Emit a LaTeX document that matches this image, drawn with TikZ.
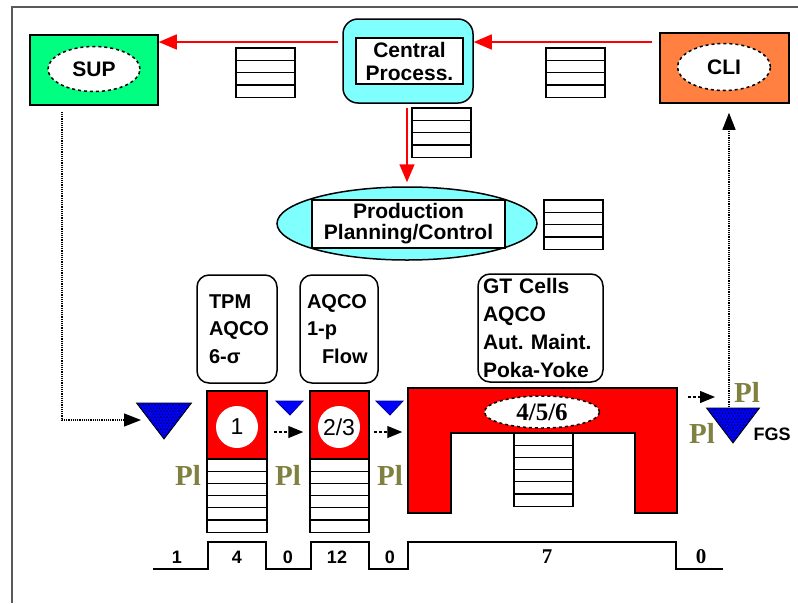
\documentclass[tikz,border=0pt]{standalone}
\usepackage{fontspec}
\setmainfont{Liberation Sans}
\newfontfamily\plfont{Liberation Serif}
\usetikzlibrary{arrows.meta,shapes.geometric}

\definecolor{supgreen}{RGB}{0,255,128}
\definecolor{cliorange}{RGB}{255,128,64}
\definecolor{cpcyan}{RGB}{128,255,255}
\definecolor{plolive}{RGB}{128,128,64}
\definecolor{framegray}{RGB}{90,90,90}

% kanban / document stack: x, y, width, rows, row height
\newcommand{\docstack}[5]{%
  \draw[fill=white, line width=1.2pt] (#1,#2) rectangle ++(#3,{#4*#5});
  \foreach \row in {1,...,#4} \draw[line width=1.2pt] (#1,{#2+\row*#5}) -- ++(#3,0);
}

% inventory triangle: apex x, top y, half width, height
\newcommand{\invtri}[4]{%
  \begin{scope}
    \clip (#1-#3,#2) -- (#1+#3,#2) -- (#1,#2+#4) -- cycle;
    \fill[blue] (#1-#3,#2) rectangle (#1+#3,#2+#4);
    \foreach \dy in {2,5,...,38}
      \foreach \dx in {-30,-27,...,30}
        \fill[black] ({#1+\dx+mod(\dy,2)*1.5},{#2+\dy}) circle (0.75);
  \end{scope}
  \draw[line width=0.8pt] (#1-#3,#2) -- (#1+#3,#2) -- (#1,#2+#4) -- cycle;
}

\begin{document}
\frenchspacing
\begin{tikzpicture}[x=1pt, y=-1pt, line width=1.5pt,
  redarrow/.style={red, line width=1.5pt, -{Triangle[length=18pt,width=15pt]}},
  flowarrow/.style={densely dashed, line width=1.2pt, -{Triangle[length=15pt,width=12pt]}},
  infoline/.style={densely dotted, line width=1.2pt, -{Triangle[length=17pt,width=13pt]}},
  partner/.style={draw, minimum width=128, minimum height=70, inner sep=0},
  tag/.style={draw, dashed, fill=white, ellipse, minimum width=92, minimum height=45, inner sep=0,
    font=\fontsize{21}{21}\selectfont\bfseries},
  cellbox/.style={draw, fill=red, minimum height=68, inner sep=0},
  cellno/.style={circle, fill=white, minimum size=42, inner sep=0, font=\fontsize{23}{23}\selectfont},
  notebox/.style={draw, rounded corners=12pt, align=left, inner sep=0, minimum height=108,
    font=\fontsize{20}{27.5}\selectfont\bfseries},
  plabel/.style={text=plolive, font=\fontsize{29}{29}\selectfont\plfont\bfseries},
  lead/.style={font=\fontsize{18}{18}\selectfont\bfseries},
]
\useasboundingbox (0,0) rectangle (798,603);

% Frame
\draw[framegray, line width=2pt] (12,603) -- (12,7) -- (798,7);

% Supplier, central process, customer
\node[partner, fill=supgreen] (sup) at (94,70) {};
\node[tag] (suptag) at (94,69) {SUP};
\node[partner, fill=cliorange, minimum width=129] (cli) at (724.5,68) {};
\node[tag, minimum width=93, minimum height=47] (clitag) at (724,67) {CLI};
\node[draw, fill=cpcyan, rounded corners=15pt, minimum width=130, minimum height=84] (cp) at (408,61) {};
\node[draw, fill=white, minimum width=107, minimum height=46, inner sep=0, align=center,
  font=\fontsize{21}{23}\selectfont\bfseries] (cptext) at (409.5,61) {Central\\Process.};

% Production planning
\node[draw, fill=cpcyan, ellipse, minimum width=260, minimum height=73, inner sep=0] (ppc) at (407,223.5) {};
\node[draw, fill=white, minimum width=193, minimum height=48, inner sep=0, align=center,
  font=\fontsize{21}{21}\selectfont\bfseries] (ppctext) at (408.5,224) {Production\\Planning/Control};

% Information flow (red)
\coordinate (toprow) at (0,42);
\draw[redarrow, shorten <=7pt] (cli.west |- toprow) -- (cp.east |- toprow);
\draw[redarrow, shorten <=4pt] (cp.west |- toprow) -- (sup.east |- toprow);
\draw[redarrow, shorten <=4pt, shorten >=4pt] (cp.south -| 407,0) -- (ppc.north -| 407,0);

% Stacks on the information flow
\docstack{236}{48}{59}{4}{12.3}
\docstack{546}{48}{59}{4}{12.3}
\docstack{412}{108}{59}{4}{12.3}
\docstack{544}{200}{59}{4}{12.3}

% Improvement notes
\node[notebox, minimum width=80, text width=56] (tpm) at (237,329) {TPM\\AQCO\\6-σ};
\node[notebox, minimum width=78, text width=64] (onep) at (339,329) {AQCO\\1-p\\\hspace*{15pt}Flow};
\node[notebox, minimum width=125, text width=115, font=\fontsize{21}{28}\selectfont\bfseries] (gt) at (540.5,328)
  {GT Cells\\AQCO\\Aut. Maint.\\Poka-Yoke};

% Process boxes
\node[cellbox, minimum width=60] (box1) at (237,425) {};
\node[cellno] (no1) at (237,427) {1};
\node[cellbox, minimum width=59] (box2) at (339.5,425) {};
\node[cellno] (no2) at (339,427) {2/3};
\node[minimum width=269, minimum height=125, inner sep=0] (cell) at (542.5,450.5) {};
\draw[fill=red] (408,388) -- (677,388) -- (677,513) -- (635,513) -- (635,433)
  -- (451,433) -- (451,513) -- (408,513) -- cycle;
\node[tag, minimum width=115, minimum height=32, font=\fontsize{25}{25}\selectfont\bfseries\plfont]
  (no3) at (542,412) {4/5/6};

% WIP stacks
\docstack{207}{459}{60}{6}{12.2}
\docstack{310}{459}{59}{6}{12.2}
\docstack{514}{433}{59}{6}{12.2}

% Inventory triangles
\coordinate (inv0) at (164,421);
\coordinate (fgs) at (729,407);
\invtri{164}{403}{27.5}{36}
\invtri{733}{408}{26.5}{35}
\foreach \x in {290,390}
  \filldraw[fill=blue, draw=blue!60!black, line width=0.8pt] (\x-14,401) -- (\x+13,401) -- (\x,415) -- cycle;
\node[lead, anchor=center] (fgslab) at (772,434) {FGS};

% Material flow
\coordinate (flowrow) at (0,432);
\draw[flowarrow, shorten <=6pt, shorten >=6pt] (box1.east |- flowrow) -- (box2.west |- flowrow);
\draw[flowarrow, shorten <=4pt, shorten >=5pt] (box2.east |- flowrow) -- (cell.west |- flowrow);
\draw[flowarrow, shorten <=10pt] (cell.east |- 0,397) -- (715,397);

% Information lines (dotted)
\coordinate (supdrop) at (62,420);
\draw[infoline, shorten <=6pt] (sup.south -| supdrop) -- (supdrop) -- (141,420);
\draw[infoline, shorten >=9pt] (fgs) -- (cli.south -| fgs);

% Pull signals
\foreach \x/\y [count=\i] in {188/475,288/475,390/475,702/433,747/392}
  \node[plabel] (pl\i) at (\x,\y) {Pl};

% Lead time ladder
\draw (153,569) -- (208,569) -- (208,542) -- (266,542) -- (266,569) -- (311,569) -- (311,542)
  -- (369,542) -- (369,569) -- (408,569) -- (408,542) -- (676,542) -- (676,569) -- (723,569);
\foreach \x/\lab [count=\i] in {177/1,237/4,288/0,337/12,390/0}
  \node[lead] (lt\i) at (\x,557) {\lab};
\node[lead, font=\fontsize{21}{21}\selectfont\bfseries\plfont] (lt6) at (547,557) {7};
\node[lead, font=\fontsize{21}{21}\selectfont\bfseries\plfont] (lt7) at (701,557) {0};
\end{tikzpicture}
\end{document}
